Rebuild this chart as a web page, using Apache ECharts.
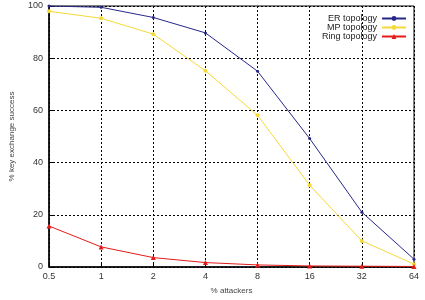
<!DOCTYPE html>
<html>
<head>
<meta charset="utf-8">
<script src="https://cdn.jsdelivr.net/npm/echarts@6/dist/echarts.min.js"></script>
<style>
  html, body { margin: 0; padding: 0; background: #fff; }
  #main { width: 425px; height: 300px; }
</style>
</head>
<body>
<div id="main"></div>
<script>
// % attackers (log2 steps)
var attackers = ['0.5', '1', '2', '4', '8', '16', '32', '64'];
var erTopology = [100, 99.5, 95.6, 89.7, 75, 49.2, 21, 3];
var mpTopology = [98, 95.3, 89.2, 75.2, 58.1, 31.3, 10, 1.1];
var ringTopology = [15.7, 7.7, 3.6, 1.7, 0.8, 0.4, 0.3, 0.2];
var yTicks = [0, 20, 40, 60, 80, 100];

var chart = echarts.init(document.getElementById('main'));

var dashed = { color: '#000', width: 1, type: [2, 2] };

chart.setOption({
  animation: false,
  textStyle: { fontFamily: 'Liberation Sans, Arial, sans-serif' },
  grid: {
    left: 42, right: 11, top: 6, bottom: 26,
    show: true, borderColor: '#000', borderWidth: 1
  },
  legend: {
    top: 9, right: 13,
    orient: 'vertical',
    align: 'right',
    itemGap: 0,
    itemWidth: 24, itemHeight: 6,
    textStyle: { fontSize: 9, color: '#222' },
    data: ['ER topology', 'MP topology', 'Ring topology']
  },
  xAxis: {
    type: 'category',
    data: attackers,
    boundaryGap: false,
    name: '% attackers',
    nameLocation: 'middle',
    nameGap: 20,
    nameTextStyle: { fontSize: 8, color: '#444' },
    axisLine: { lineStyle: { color: '#000', width: 1.5 } },
    axisTick: { inside: true, length: 4, lineStyle: { color: '#000' } },
    axisLabel: { fontSize: 9, color: '#333', margin: 5 },
    splitLine: { show: true, lineStyle: dashed }
  },
  yAxis: {
    type: 'value',
    min: 0, max: 100, interval: 20,
    name: '% key exchange success',
    nameLocation: 'middle',
    nameGap: 33,
    nameTextStyle: { fontSize: 8, color: '#444' },
    axisLine: { show: true, lineStyle: { color: '#000', width: 1.5 } },
    axisTick: { show: true, inside: true, length: 4, lineStyle: { color: '#000' } },
    axisLabel: {
      fontSize: 9, color: '#333', margin: 6,
      formatter: function (v) { return yTicks.indexOf(v) >= 0 ? String(v) : ''; }
    },
    splitLine: { show: true, lineStyle: dashed }
  },
  series: [
    {
      name: 'ER topology', type: 'line', data: erTopology,
      symbol: 'circle', symbolSize: 3,
      itemStyle: { color: '#27278a' },
      lineStyle: { width: 1, color: '#27278a' }
    },
    {
      name: 'MP topology', type: 'line', data: mpTopology,
      symbol: 'circle', symbolSize: 4,
      itemStyle: { color: '#f5d938' },
      lineStyle: { width: 1, color: '#f5d938' }
    },
    {
      name: 'Ring topology', type: 'line', data: ringTopology,
      symbol: 'triangle', symbolSize: 5,
      itemStyle: { color: '#e41a1a' },
      lineStyle: { width: 1, color: '#e41a1a' }
    }
  ]
});
</script>
</body>
</html>
